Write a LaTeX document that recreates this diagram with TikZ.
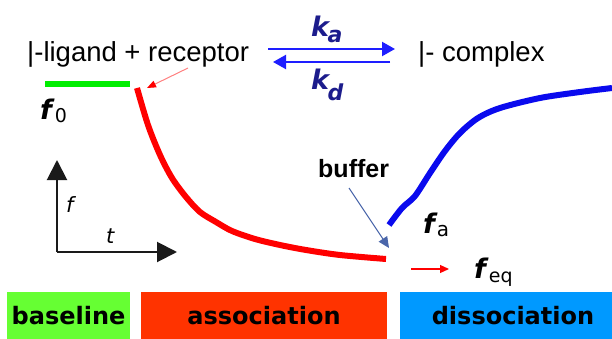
\documentclass[tikz,border=0pt]{standalone}
\usepackage{fontspec}
\setmainfont{Liberation Sans}
\newfontfamily\dejavu{DejaVu Sans}
\usetikzlibrary{arrows.meta}
\newcommand\mysz[1]{\fontsize{#1}{#1}\selectfont}
\definecolor{gbox}{HTML}{66FF33}
\definecolor{rbox}{HTML}{FF3300}
\definecolor{bbox}{HTML}{0099FF}
\definecolor{gline}{HTML}{00EE00}
\definecolor{rline}{HTML}{FF0000}
\definecolor{bline}{HTML}{0A0AEE}
\definecolor{rxn}{HTML}{1E1EFF}
\definecolor{kcol}{HTML}{1C1C8C}
\definecolor{bufcol}{HTML}{4A66AA}
\definecolor{axcol}{HTML}{1A1A1A}
\tikzset{
  lab/.style={inner sep=0pt, anchor=base west, font=\mysz{27.5}},
  klab/.style={inner sep=0pt, anchor=base west, text=kcol, font=\dejavu\bfseries\itshape\mysz{27}},
  flab/.style={inner sep=0pt, anchor=base west, font=\dejavu\bfseries\itshape\mysz{27}},
  axlab/.style={inner sep=0pt, anchor=base west, font=\dejavu\itshape\mysz{21}},
  boxlab/.style={inner sep=0pt, font=\dejavu\bfseries\mysz{24}},
  curve/.style={line width=6pt},
  rxnarrow/.style={rxn, line width=2.2pt, -{Triangle[length=13pt,width=14pt]}},
  axarrow/.style={axcol, line width=2pt, -{Triangle[length=20pt,width=20pt]}},
}
\begin{document}
\begin{tikzpicture}[x=1pt,y=-1pt]
\clip (0,0) rectangle (612,339);
\useasboundingbox (0,0) rectangle (612,339);

% reaction
\node[lab] (lig) at (27,62) {|-ligand + receptor};
\node[lab] (cpx) at (418,62) {|- complex};
\coordinate (a1) at (268,49);
\coordinate (a2) at (395,49);
\coordinate (d1) at (390,62);
\coordinate (d2) at (273,62);
\draw[rxnarrow] (a1) -- (a2);
\draw[rxnarrow] (d1) -- (d2);
\node[klab] (ka) at (311,37) {k\hspace{-1.5pt}\raisebox{-6pt}{\mysz{22}a}};
\node[klab] (kd) at (311,90) {k\hspace{-1.5pt}\raisebox{-11pt}{\mysz{22}d}};

% baseline
\coordinate (g1) at (45,84);
\coordinate (g2) at (130,84);
\draw[gline, curve] (g1) -- (g2);
\node[flab] (f0) at (40,120) {f\hspace{3pt}\raisebox{-3pt}{\dejavu\mdseries\upshape\mysz{19}0}};

% association curve
\draw[rline, curve] plot[smooth, tension=0.5] coordinates {(137,88) (148,125) (160,155) (172,178) (186,197) (200,212) (216,222) (232,231) (255,239) (280,245) (306,250) (340,255) (386,259)};
\coordinate (rs) at (147,88);
\coordinate (rt) at (188,68);
\draw[rline!50, line width=1pt, -{Triangle[length=9pt,width=7pt,fill=rline,color=rline]}] (rt) -- (rs);

% dissociation curve
\draw[bline, curve] plot[smooth, tension=0.5] coordinates {(389,225) (402,208) (415,196) (430,173) (445,151) (460,133) (478,118) (500,108) (540,98) (580,92) (612,88)};
\node[flab] (fa) at (423,233) {f\hspace{2pt}\raisebox{-3pt}{\dejavu\mdseries\upshape\mysz{20}a}};
\node[flab] (feq) at (474,278) {f\hspace{3pt}\raisebox{-4pt}{\dejavu\mdseries\upshape\mysz{19}eq}};
\coordinate (e1) at (411,269);
\coordinate (e2) at (449,269);
\draw[rline, line width=1.2pt, -{Triangle[length=9pt,width=8pt]}] (e1) -- (e2);

% buffer
\node[inner sep=0pt, anchor=base west, font=\bfseries\mysz{25}] (buf) at (318,177) {buffer};
\coordinate (b1) at (349,188);
\coordinate (b2) at (389,248);
\draw[bufcol, line width=1pt, -{Triangle[length=11pt,width=10pt]}] (b1) -- (b2);

% axes
\coordinate (o) at (57,252);
\coordinate (ytip) at (57,160);
\coordinate (xtip) at (177,252);
\draw[axarrow] (o) -- (ytip);
\draw[axarrow] (o) -- (xtip);
\node[axlab] (fax) at (66,212) {f};
\node[axlab] (tax) at (106,243) {t};

% phase boxes
\fill[gbox] (7,292) rectangle (130,340);
\fill[rbox] (141,292) rectangle (387,340);
\fill[bbox] (400,292) rectangle (626,340);
\node[boxlab] (bl) at (68.5,316) {baseline};
\node[boxlab] (al) at (264,316) {association};
\node[boxlab] (dl) at (513,316) {dissociation};
\end{tikzpicture}
\end{document}
